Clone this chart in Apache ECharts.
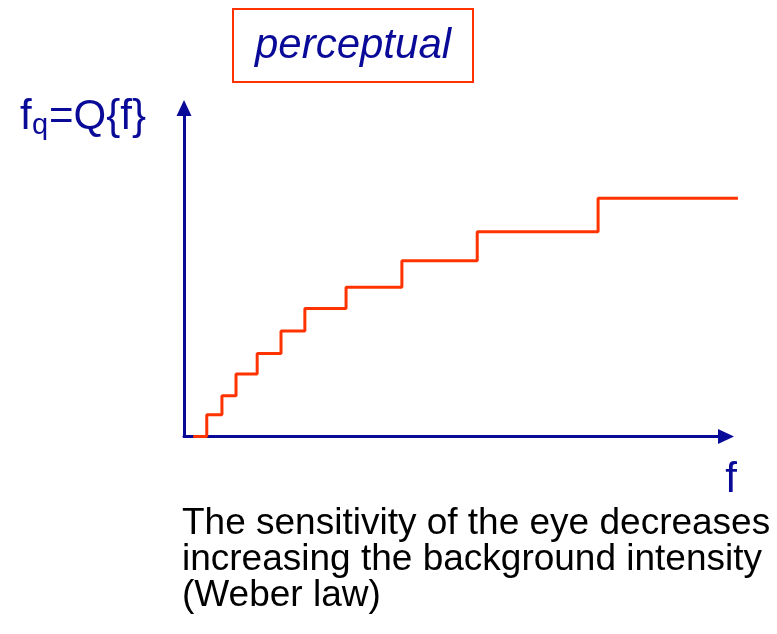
<!DOCTYPE html>
<html>
<head>
<meta charset="utf-8">
<script src="https://cdn.jsdelivr.net/npm/echarts@6/dist/echarts.min.js"></script>
<style>
  html, body { margin: 0; padding: 0; background: #ffffff; }
  #chart { width: 777px; height: 634px; }
</style>
</head>
<body>
<div id="chart"></div>
<script>
// Perceptual (non-uniform) quantizer: input f where each new level is reached
const riseX = [1.7, 4.2, 7.0, 9.6, 13.5, 17.9, 22.3, 29.9, 40.2, 54.1, 76.4, 102.2];
// Quantized output level f_q held from that input on
const levels = [0, 6.6, 12.4, 19.0, 25.3, 32.1, 39.0, 45.4, 53.5, 62.3, 72.5, 72.5];

const captionLines = [
  'The sensitivity of the eye decreases',
  'increasing the background intensity',
  '(Weber law)'
];

const NAVY = '#0a0a99';
const RED = '#ff3300';
const FONT = '"Liberation Sans", Arial, Helvetica, sans-serif';

// the visible axes span 0..100; the curve runs a little past the arrow head
const AXIS_MAX = 100;
const CURVE_MAX = riseX[riseX.length - 1];
const PLOT_LEFT = 184;
const AXIS_WIDTH = 542;
const PX_PER_UNIT = AXIS_WIDTH / AXIS_MAX;
const CHART_W = 777;

const chart = echarts.init(document.getElementById('chart'), null, { renderer: 'canvas' });

function axis(gridIndex, visible, max) {
  return {
    type: 'value',
    gridIndex: gridIndex,
    min: 0,
    max: max,
    axisLine: {
      show: visible,
      symbol: ['none', 'triangle'],
      symbolSize: [15, 16],
      lineStyle: { color: NAVY, width: 3 }
    },
    axisTick: { show: false },
    axisLabel: { show: false },
    splitLine: { show: false }
  };
}

const graphics = [
  // framed heading
  {
    type: 'rect',
    shape: { x: 233, y: 9, width: 240, height: 73 },
    style: { fill: '#ffffff', stroke: RED, lineWidth: 2 }
  },
  {
    type: 'text',
    x: 353, y: 46,
    style: {
      text: 'perceptual', font: 'italic 42px ' + FONT, fill: NAVY,
      textAlign: 'center', textVerticalAlign: 'middle'
    }
  },
  // y-axis name f_q=Q{f}
  {
    type: 'text', x: 20, y: 117,
    style: { text: 'f', font: '42px ' + FONT, fill: NAVY, textAlign: 'left', textVerticalAlign: 'middle' }
  },
  {
    type: 'text', x: 32, y: 126,
    style: { text: 'q', font: '29px ' + FONT, fill: NAVY, textAlign: 'left', textVerticalAlign: 'middle' }
  },
  {
    type: 'text', x: 49, y: 117,
    style: { text: '=Q{f}', font: '42px ' + FONT, fill: NAVY, textAlign: 'left', textVerticalAlign: 'middle' }
  },
  // x-axis name
  {
    type: 'text', x: 731, y: 480,
    style: { text: 'f', font: '42px ' + FONT, fill: NAVY, textAlign: 'center', textVerticalAlign: 'middle' }
  }
];

captionLines.forEach(function (line, i) {
  graphics.push({
    type: 'text', x: 182, y: 524 + i * 36,
    style: { text: line, font: '37px ' + FONT, fill: '#000000', textAlign: 'left', textVerticalAlign: 'middle' }
  });
});

const gridTop = 108, gridBottom = 197.5;

chart.setOption({
  animation: false,
  backgroundColor: '#ffffff',
  grid: [
    // axes frame
    { left: PLOT_LEFT, right: CHART_W - PLOT_LEFT - AXIS_WIDTH, top: gridTop, bottom: gridBottom },
    // same scale, wide enough for the whole curve
    { left: PLOT_LEFT, right: CHART_W - PLOT_LEFT - CURVE_MAX * PX_PER_UNIT, top: gridTop, bottom: gridBottom }
  ],
  xAxis: [axis(0, true, AXIS_MAX), axis(1, false, CURVE_MAX)],
  yAxis: [axis(0, true, AXIS_MAX), axis(1, false, AXIS_MAX)],
  series: [{
    type: 'line',
    xAxisIndex: 1,
    yAxisIndex: 1,
    step: 'end',
    showSymbol: false,
    symbol: 'none',
    lineStyle: { color: RED, width: 3 },
    data: riseX.map(function (x, i) { return [x, levels[i]]; })
  }],
  graphic: graphics
});
</script>
</body>
</html>
